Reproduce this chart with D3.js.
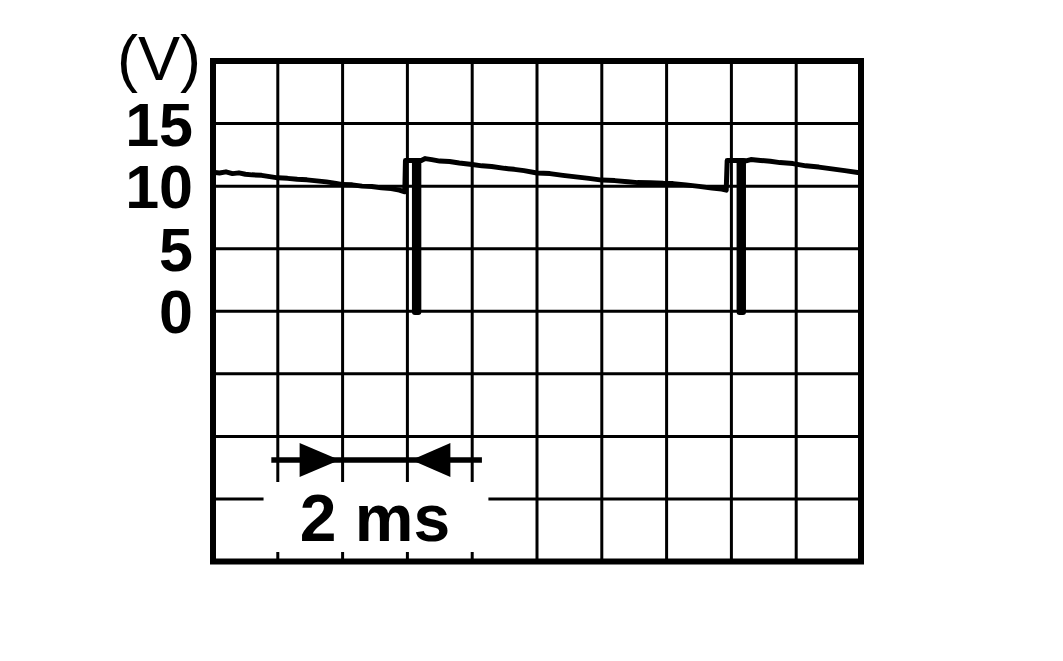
<!DOCTYPE html>
<html>
<head>
<meta charset="utf-8">
<script src="https://cdn.jsdelivr.net/npm/d3@7"></script>
<style>
html,body{margin:0;padding:0;background:#fff;}
svg{display:block;}
text{font-family:"Liberation Sans",Arial,sans-serif;fill:#000;}
</style>
</head>
<body>
<svg id="chart" width="1063" height="661"></svg>
<script>
// ---- data ----
const timeMs = [0, 0.2, 0.4, 0.6, 0.8, 1.0, 1.2, 1.5, 1.8, 2.0, 2.3, 2.6, 2.9, 3.2, 3.5, 3.8, 4.0, 4.3, 4.6, 4.9, 5.2, 5.5, 5.75, 5.92,
  5.94, 6.14,
  6.43, 6.55, 6.75, 7.0, 7.3, 7.6, 8.0, 8.3, 8.6, 9.0, 9.3, 9.6, 10.0, 10.4, 10.8, 11.2, 11.6, 12.0, 12.4, 12.8, 13.1, 13.5, 13.9, 14.2, 14.6, 15.0, 15.4, 15.7, 15.84,
  15.87, 16.16,
  16.45, 16.6, 16.9, 17.2, 17.5, 17.9, 18.3, 18.7, 19.1, 19.5, 20.0];
const volts = [11.1, 11.05, 11.14, 11.0, 11.06, 10.95, 10.9, 10.86, 10.74, 10.66, 10.62, 10.55, 10.5, 10.42, 10.34, 10.22, 10.12, 10.1, 10.0, 9.97, 9.86, 9.8, 9.68, 9.55,
  12.05, 12.05,
  12.05, 12.2, 12.12, 12.0, 11.97, 11.85, 11.72, 11.62, 11.57, 11.42, 11.34, 11.24, 11.05, 11.0, 10.86, 10.74, 10.62, 10.48, 10.44, 10.35, 10.28, 10.27, 10.22, 10.2, 10.1, 9.98, 9.84, 9.76, 9.68,
  12.05, 12.05,
  12.02, 12.12, 12.05, 11.99, 11.88, 11.8, 11.62, 11.52, 11.38, 11.24, 11.05];
// spikes down to 0 V
const spikeStart = [6.14, 16.16];
const spikeEnd = [6.43, 16.45];
const spikeLow = [-0.3, -0.3];
const spikeHigh = [12.05, 12.05];

const xDomain = [0, 20];          // ms (2 ms / division)
const yDomain = [-20, 20];        // V  (5 V / division)
const xGrid = [2, 4, 6, 8, 10, 12, 14, 16, 18];
const yGrid = [-15, -10, -5, 0, 5, 10, 15];
const yTickLabels = [15, 10, 5, 0];
const unitLabel = "(V)";
const spanStart = 4, spanEnd = 6, spanLabel = "2 ms";

// ---- layout ----
const svg = d3.select("#chart");
const L = 213, R = 861, T = 61, B = 561.5;
const x = d3.scaleLinear().domain(xDomain).range([L, R]);
const y = d3.scaleLinear().domain(yDomain).range([B, T]);

// grid
const g = svg.append("g");
g.selectAll("line.v").data(xGrid).enter().append("line")
  .attr("x1", d => x(d)).attr("x2", d => x(d)).attr("y1", T).attr("y2", B)
  .attr("stroke", "#000").attr("stroke-width", 3);
g.selectAll("line.h").data(yGrid).enter().append("line")
  .attr("y1", d => y(d)).attr("y2", d => y(d)).attr("x1", L).attr("x2", R)
  .attr("stroke", "#000").attr("stroke-width", 3);

// white label box for "2 ms"
const bx0 = x(spanStart) - (x(spanEnd) - x(spanStart)) * 1.22;
const bx1 = x(spanEnd) + (x(spanEnd) - x(spanStart)) * 1.25;
svg.append("rect").attr("x", bx0).attr("y", 482).attr("width", bx1 - bx0).attr("height", 70).attr("fill", "#fff");

// frame
svg.append("rect").attr("x", L).attr("y", T).attr("width", R - L).attr("height", B - T)
  .attr("fill", "none").attr("stroke", "#000").attr("stroke-width", 6);

// trace
const pts = timeMs.map((t, i) => [t, volts[i]]);
const line = d3.line().x(d => x(d[0])).y(d => y(d[1]));
svg.append("path").attr("d", line(pts)).attr("fill", "none").attr("stroke", "#000")
  .attr("stroke-width", 5).attr("stroke-linejoin", "round").attr("stroke-linecap", "round");

// spikes
svg.selectAll("rect.spike").data(spikeStart).enter().append("rect")
  .attr("x", (d, i) => x(spikeStart[i]))
  .attr("width", (d, i) => x(spikeEnd[i]) - x(spikeStart[i]))
  .attr("y", (d, i) => y(spikeHigh[i]) - 2.5)
  .attr("height", (d, i) => y(spikeLow[i]) - y(spikeHigh[i]) + 2.5)
  .attr("rx", 3)
  .attr("fill", "#000");

// y tick labels
svg.selectAll("text.yt").data(yTickLabels).enter().append("text")
  .attr("x", 193).attr("y", d => y(d) + 22)
  .attr("text-anchor", "end").attr("font-size", 61).attr("font-weight", "bold")
  .text(d => d);
svg.append("text").attr("x", 201).attr("y", 80).attr("text-anchor", "end")
  .attr("font-size", 63).text(unitLabel);

// span arrow
const ay = 460;
const ux = x(spanEnd) - x(spanStart);
svg.append("line").attr("x1", x(spanStart) - ux * 1.1).attr("x2", x(spanEnd) + ux * 1.15)
  .attr("y1", ay).attr("y2", ay).attr("stroke", "#000").attr("stroke-width", 5.5);
const tipA = x(spanStart) - 3, tipB = x(spanEnd) + 4;
svg.append("path").attr("d", `M${tipA},${ay} L${tipA - 40},${ay - 17} L${tipA - 40},${ay + 17} Z`).attr("fill", "#000");
svg.append("path").attr("d", `M${tipB},${ay} L${tipB + 39},${ay - 17} L${tipB + 39},${ay + 17} Z`).attr("fill", "#000");
svg.append("text").attr("x", (x(spanStart) + x(spanEnd)) / 2).attr("y", 541)
  .attr("text-anchor", "middle").attr("font-size", 66).attr("font-weight", "bold").text(spanLabel);
</script>
</body>
</html>
